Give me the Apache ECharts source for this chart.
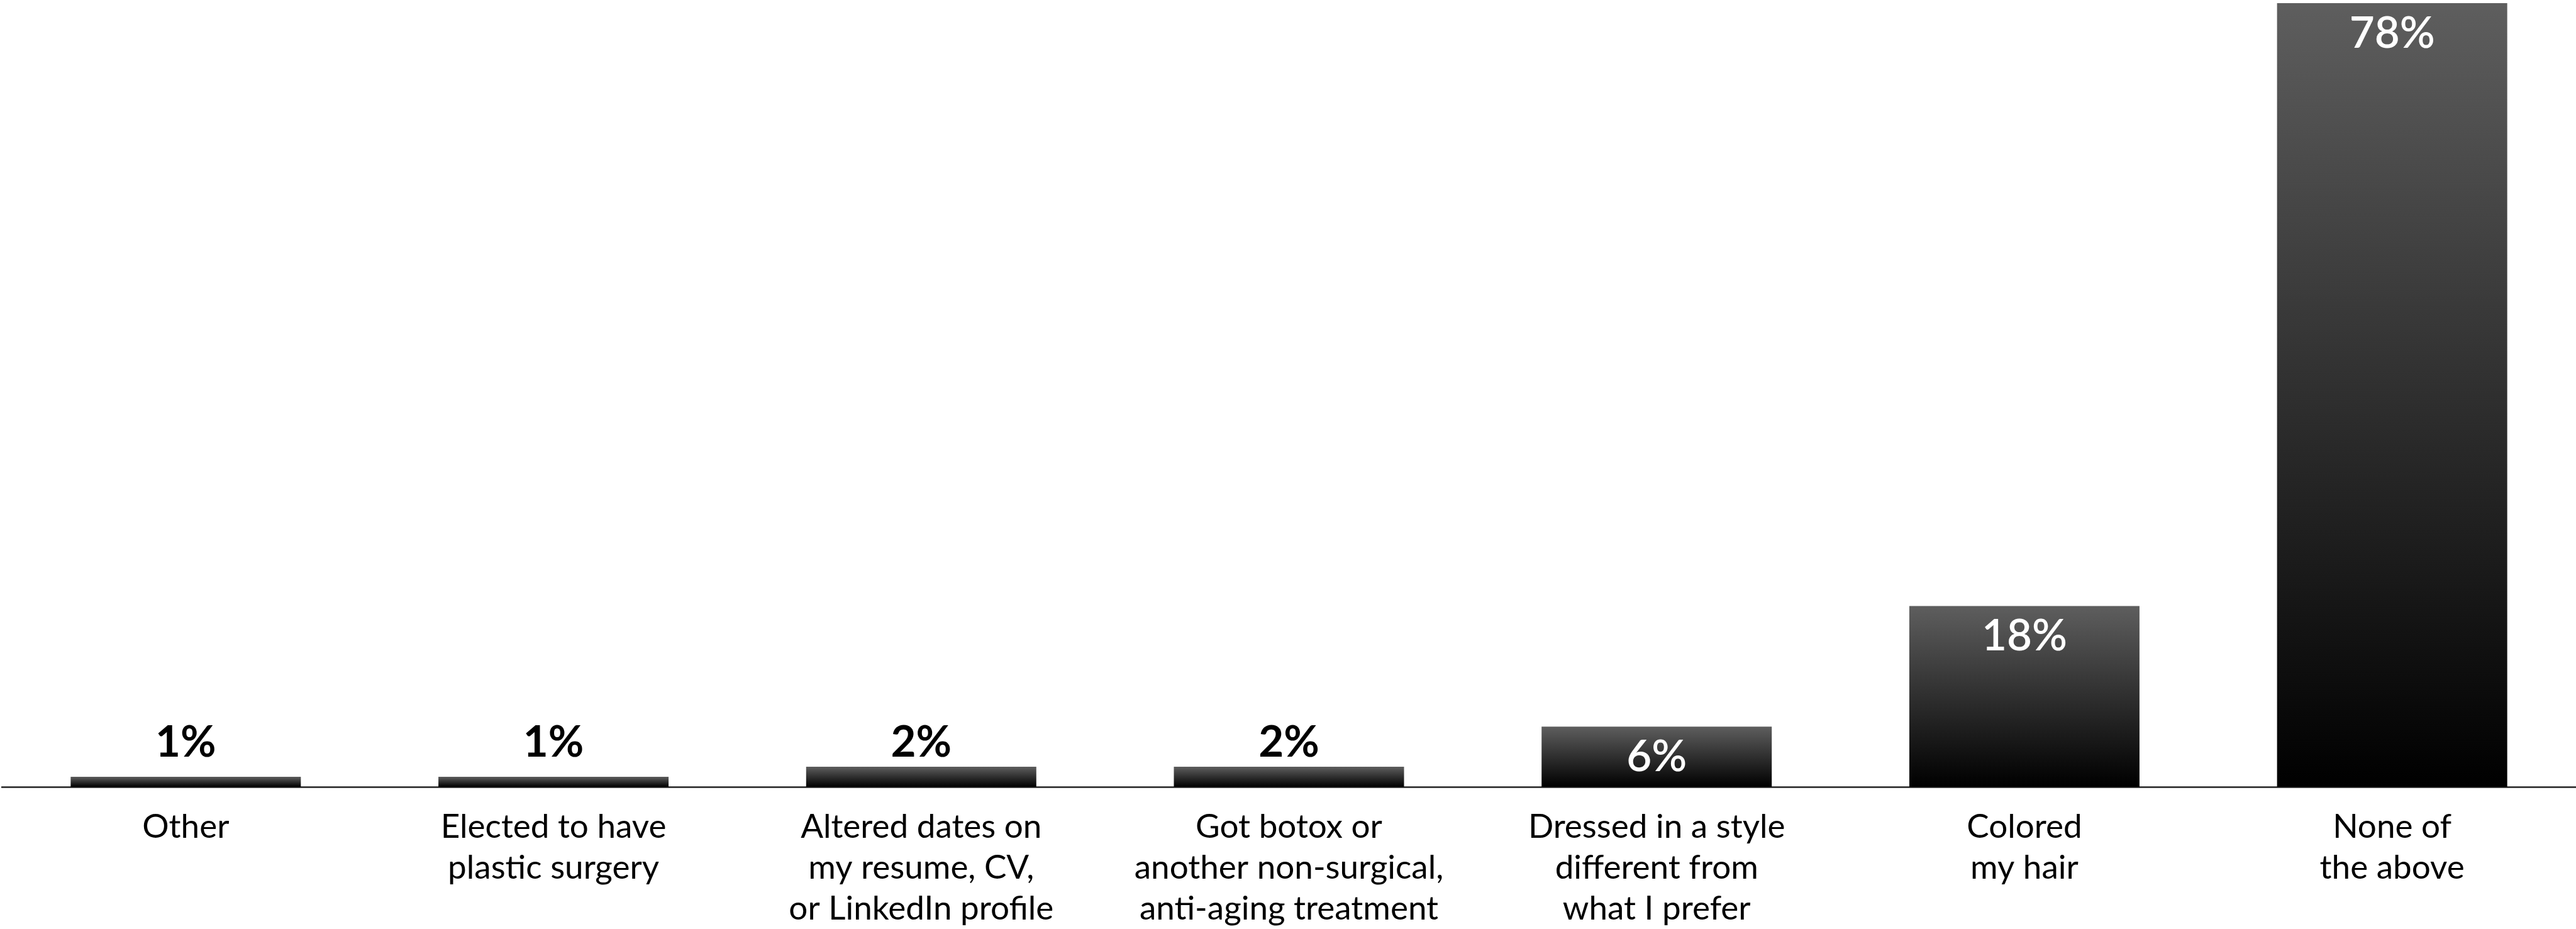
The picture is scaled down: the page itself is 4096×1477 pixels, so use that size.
<!DOCTYPE html>
<html>
<head>
<meta charset="utf-8">
<script src="https://cdn.jsdelivr.net/npm/echarts@6/dist/echarts.min.js"></script>
<style>
  html, body { margin: 0; padding: 0; background: #ffffff; }
  #chart { width: 4096px; height: 1477px; }
</style>
</head>
<body>
<div id="chart"></div>
<script>
// Survey answers: what respondents did to appear younger at work
const categories = [
  'Other',
  'Elected to have\nplastic surgery',
  'Altered dates on\nmy resume, CV,\nor LinkedIn profile',
  'Got botox or\nanother non-surgical,\nanti-aging treatment',
  'Dressed in a style\ndifferent from\nwhat I prefer',
  'Colored\nmy hair',
  'None of\nthe above'
];
const shares = [1, 1, 2, 2, 6, 18, 78];

// Short bars carry their value above (all on one line); tall bars carry it inside, in white
const INSIDE_FROM = 5;
const Y_MAX = 78;
const PLOT_HEIGHT = 1248;            // grid height in px
const PX_PER_UNIT = PLOT_HEIGHT / Y_MAX;

const barFill = {
  type: 'linear', x: 0, y: 0, x2: 0, y2: 1,
  colorStops: [
    { offset: 0, color: '#5e5e5e' },
    { offset: 1, color: '#000000' }
  ]
};

function labelFor(v) {
  if (v >= INSIDE_FROM) {
    return {
      show: true, position: 'insideTop', distance: 14,
      color: '#ffffff', fontWeight: 600,
      fontFamily: 'Lato', fontSize: 69,
      formatter: '{c}%'
    };
  }
  // keep the outside labels level with one another
  return {
    show: true, position: 'top',
    distance: 20 - (v - 1) * PX_PER_UNIT,
    color: '#000000', fontWeight: 'bold',
    fontFamily: 'Lato', fontSize: 69,
    formatter: '{c}%'
  };
}

const chart = echarts.init(document.getElementById('chart'), null, { renderer: 'canvas' });

chart.setOption({
  animation: false,
  backgroundColor: '#ffffff',
  grid: { left: 3, right: 0, top: 5, height: PLOT_HEIGHT, containLabel: false },
  xAxis: {
    type: 'category',
    data: categories,
    axisLine: { show: true, lineStyle: { color: '#222222', width: 2.5 } },
    axisTick: { show: false },
    axisLabel: {
      interval: 0,
      margin: 31,
      color: '#000000',
      fontFamily: 'Lato',
      fontSize: 53,
      lineHeight: 65,
      align: 'center'
    }
  },
  yAxis: {
    type: 'value',
    min: 0,
    max: Y_MAX,
    show: false,
    splitLine: { show: false }
  },
  series: [{
    type: 'bar',
    barWidth: 366,
    itemStyle: { color: barFill },
    data: shares.map(v => ({ value: v, label: labelFor(v) }))
  }]
});
</script>
</body>
</html>
